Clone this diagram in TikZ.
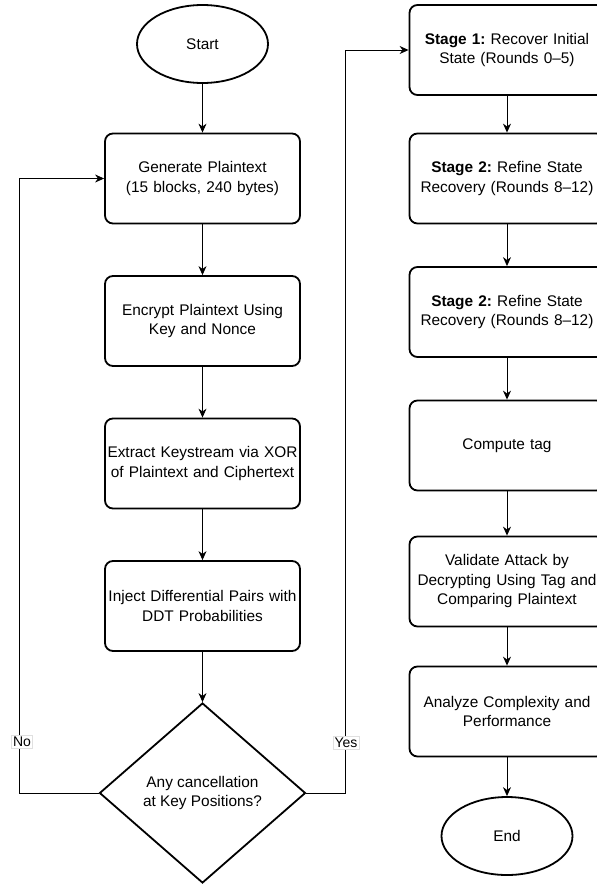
\documentclass[tikz,border=0pt]{standalone}
\usepackage{fontspec}
\setmainfont{Liberation Sans}
\usepackage{tikz}
\usetikzlibrary{arrows.meta,positioning,shapes.geometric}
\frenchspacing

\tikzset{
  flowbox/.style={draw,line width=1.8pt,rounded corners=8pt,minimum width=195pt,minimum height=90pt,text width=195pt,align=center,inner sep=0pt},
  terminal/.style={draw,ellipse,line width=1.8pt,minimum width=131pt,minimum height=78pt,inner sep=0pt},
  decision/.style={draw,diamond,line width=1.8pt,minimum width=206pt,minimum height=180pt,align=center,inner sep=0pt},
  flowline/.style={line width=0.9pt,-{Stealth[length=9pt,width=8pt]}},
  branch/.style={fill=white,draw=black!12,line width=0.4pt,inner sep=1.5pt,font=\fontsize{14pt}{16pt}\selectfont}
}

\begin{document}
\begin{tikzpicture}[x=1pt,y=-1pt,font=\fontsize{15.4pt}{19.5pt}\selectfont]
  \def\colL{202.5}
  \def\colR{507}
  \useasboundingbox (0,0) rectangle (597,884);

  % left column
  \node[terminal] (start) at (\colL,44) {Start};
  \node[flowbox] (gen) at (\colL,178.5) {Generate Plaintext\\(15 blocks, 240 bytes)};
  \node[flowbox] (enc) at (\colL,321) {Encrypt Plaintext Using\\Key and Nonce};
  \node[flowbox] (ext) at (\colL,463.5) {Extract Keystream via XOR\\of Plaintext and Ciphertext};
  \node[flowbox] (inj) at (\colL,606) {Inject Differential Pairs with\\DDT Probabilities};
  \node[decision] (check) at (\colL,793) {Any cancellation\\at Key Positions?};

  % right column
  \node[flowbox] (s1) at (\colR,50) {\textbf{Stage 1:} Recover Initial\\State (Rounds 0--5)};
  \node[flowbox] (s2) at (\colR,178.5) {\textbf{Stage 2:} Refine State\\Recovery (Rounds 8--12)};
  \node[flowbox] (s2b) at (\colR,312) {\textbf{Stage 2:} Refine State\\Recovery (Rounds 8--12)};
  \node[flowbox] (tag) at (\colR,445.5) {Compute tag};
  \node[flowbox] (val) at (\colR,581.5) {Validate Attack by\\Decrypting Using Tag and\\Comparing Plaintext};
  \node[flowbox] (ana) at (\colR,711.5) {Analyze Complexity and\\Performance};
  \node[terminal] (end) at (\colR,836) {End};

  \draw[flowline] (start) -- (gen);
  \draw[flowline] (gen) -- (enc);
  \draw[flowline] (enc) -- (ext);
  \draw[flowline] (ext) -- (inj);
  \draw[flowline] (inj) -- (check);

  \draw[flowline] (check.west) -- ++(-79,0) |- (gen.west);
  \draw[flowline] (check.east) -- ++(39,0) |- (s1.west);
  \node[branch] (nolbl) at (22,742) {No};
  \node[branch] (yeslbl) at (346,743) {Yes};

  \draw[flowline] (s1) -- (s2);
  \draw[flowline] (s2) -- (s2b);
  \draw[flowline] (s2b) -- (tag);
  \draw[flowline] (tag) -- (val);
  \draw[flowline] (val) -- (ana);
  \draw[flowline] (ana) -- (end);
\end{tikzpicture}
\end{document}
